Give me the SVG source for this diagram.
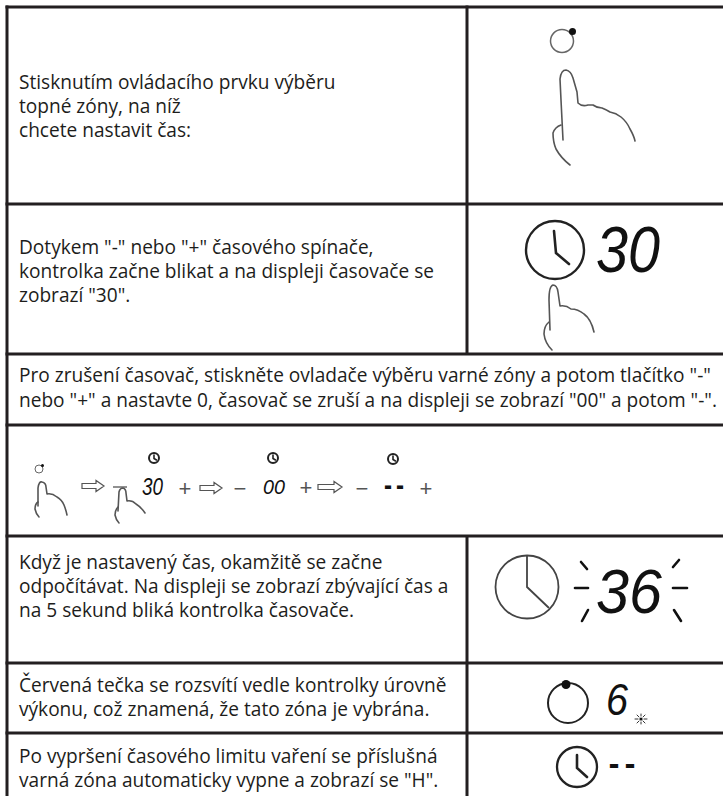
<svg xmlns="http://www.w3.org/2000/svg" width="723" height="796" viewBox="0 0 723 796">
  <style>
    .grid { stroke: #231f20; stroke-width: 3; fill: none; }
    .t { font-family: "Open Sans", "Liberation Sans", sans-serif; font-size: 19.1px; fill: #1d1d1b; }
    .hand { fill: none; stroke: #555; stroke-width: 1.6; stroke-linecap: round; stroke-linejoin: round; }
    .lcd { font-family: "Liberation Sans", "DejaVu Sans", sans-serif; font-style: italic; fill: #111; }
    .thin { font-family: "Liberation Sans", sans-serif; fill: #555; font-size: 22px; text-anchor: middle; }
    .arrow { fill: #fff; stroke: #555; stroke-width: 1.2; stroke-linejoin: miter; }
    .clk { fill: none; stroke: #222; stroke-linecap: round; }
    .tick { stroke: #111; stroke-width: 2.6; stroke-linecap: round; }
  </style>

  <!-- table grid -->
  <g id="grid" class="grid">
    <line x1="5.5" y1="7" x2="723" y2="7"/>
    <line x1="5.5" y1="204" x2="723" y2="204"/>
    <line x1="5.5" y1="354" x2="723" y2="354"/>
    <line x1="5.5" y1="425" x2="723" y2="425"/>
    <line x1="5.5" y1="536" x2="723" y2="536"/>
    <line x1="5.5" y1="663" x2="723" y2="663"/>
    <line x1="5.5" y1="733" x2="723" y2="733"/>
    <line x1="7" y1="5.5" x2="7" y2="796"/>
    <line x1="467" y1="5.5" x2="467" y2="354"/>
    <line x1="467" y1="536" x2="467" y2="796"/>
  </g>

  <!-- row 1: select cooking zone -->
  <g id="row1-text">
    <text class="t" x="19" y="89">Stisknutím ovládacího prvku výběru</text>
    <text class="t" x="19" y="113">topné zóny, na níž</text>
    <text class="t" x="19" y="137">chcete nastavit čas:</text>
  </g>
  <g id="row1-icon">
    <circle cx="562" cy="41" r="11.5" fill="none" stroke="#666" stroke-width="1.5"/>
    <circle cx="572.5" cy="31.5" r="3.5" fill="#111"/>
    <path class="hand" d="M563,140 L561,100 L560,79 Q561,70 566,70 Q571,71 573,78 L577,92 L578,103 Q582,107 588,105 L593,105 Q597,108 602,108 Q607,110 610,112 Q616,113 621,117 Q627,122 630,129 Q634,136 635,141"/>
    <path class="hand" d="M561,125 Q555,127 553,133 Q553,142 556,149 Q561,158 570,165"/>
  </g>

  <!-- row 2: timer start -->
  <g id="row2-text">
    <text class="t" x="19" y="254">Dotykem "-" nebo "+" časového spínače,</text>
    <text class="t" x="19" y="278">kontrolka začne blikat a na displeji časovače se</text>
    <text class="t" x="19" y="302">zobrazí "30".</text>
  </g>
  <g id="row2-icon">
    <circle class="clk" cx="555" cy="250" r="29" stroke-width="2.4"/>
    <polyline class="clk" points="554,231 556,253 569,264" stroke-width="2.6"/>
    <text class="lcd" x="596" y="272" font-size="65" textLength="64" lengthAdjust="spacingAndGlyphs">30</text>
    <path class="hand" d="M550,330 L549,300 Q549,286 553,285 Q557,285 558,292 L560,306 Q566,305 571,309 Q578,309 584,314 Q591,319 594,332"/>
    <path class="hand" d="M549,322 Q544,326 544,334 Q545,343 552,350"/>
  </g>

  <!-- row 3: cancelling the timer -->
  <g id="row3-text">
    <text class="t" x="19" y="382">Pro zrušení časovač, stiskněte ovladače výběru varné zóny a potom tlačítko "-"</text>
    <text class="t" x="19" y="407">nebo "+" a nastavte 0, časovač se zruší a na displeji se zobrazí "00" a potom "-".</text>
  </g>

  <!-- row 4: cancel sequence -->
  <g id="row4-sequence">
    <circle cx="39" cy="469" r="4" fill="none" stroke="#666" stroke-width="1"/>
    <circle cx="42.5" cy="465.5" r="1.5" fill="#111"/>
    <path class="hand" d="M38,506 L38,488 Q39,481 42,482 Q46,483 46,487 L47,494 Q52,493 57,497 Q62,500 64,505 Q66,510 67,515" stroke-width="1.2"/>
    <path class="hand" d="M38,502 Q35,504 35,509 Q36,514 39,517" stroke-width="1.2"/>

    <polygon class="arrow" points="82,483.5 96,483.5 96,480.5 104,486 96,491.5 96,488.5 82,488.5"/>

    <line x1="113" y1="487" x2="127" y2="487" stroke="#555" stroke-width="1.3"/>
    <path class="hand" d="M118,511 L119,492 Q120,488 123,488 Q126,489 126,493 L127,501 Q132,500 136,504 Q141,507 145,513" stroke-width="1.2"/>
    <path class="hand" d="M118,507 Q115,510 115,515 Q116,520 119,523" stroke-width="1.2"/>

    <circle class="clk" cx="154" cy="458" r="5" stroke-width="2"/>
    <polyline class="clk" points="154,455 154,458.5 156.5,460" stroke-width="1.6"/>
    <text class="lcd" x="142" y="495" font-size="23" textLength="21" lengthAdjust="spacingAndGlyphs">30</text>
    <text class="thin" x="185" y="496">+</text>

    <polygon class="arrow" points="200,485.5 214,485.5 214,482.5 222,488 214,493.5 214,490.5 200,490.5"/>
    <text class="thin" x="240" y="496">−</text>

    <circle class="clk" cx="273" cy="458" r="5" stroke-width="2"/>
    <polyline class="clk" points="273,455 273,458.5 275.5,460" stroke-width="1.6"/>
    <text class="lcd" x="263" y="494" font-size="20" textLength="22" lengthAdjust="spacingAndGlyphs">00</text>
    <text class="thin" x="306" y="495">+</text>

    <polygon class="arrow" points="318,484.5 334,484.5 334,481.5 342,487 334,492.5 334,489.5 318,489.5"/>
    <text class="thin" x="362" y="496">−</text>

    <circle class="clk" cx="393" cy="459" r="5" stroke-width="2"/>
    <polyline class="clk" points="393,456 393,459.5 395.5,461" stroke-width="1.6"/>
    <text x="382" y="494" font-family="DejaVu Sans Mono, monospace" font-weight="bold" font-size="24" fill="#111" textLength="24" lengthAdjust="spacingAndGlyphs">--</text>
    <text class="thin" x="426" y="496">+</text>
  </g>

  <!-- row 5: countdown -->
  <g id="row5-text">
    <text class="t" x="19" y="569">Když je nastavený čas, okamžitě se začne</text>
    <text class="t" x="19" y="593">odpočítávat. Na displeji se zobrazí zbývající čas a</text>
    <text class="t" x="19" y="617">na 5 sekund bliká kontrolka časovače.</text>
  </g>
  <g id="row5-icon">
    <circle cx="527" cy="587" r="31.5" fill="none" stroke="#444" stroke-width="1.8"/>
    <polyline points="527,556 527,587 549,608" fill="none" stroke="#444" stroke-width="1.8"/>
    <line class="tick" x1="581" y1="562" x2="587" y2="569"/>
    <line class="tick" x1="575" y1="588" x2="588" y2="588"/>
    <line class="tick" x1="588" y1="610" x2="582" y2="621"/>
    <text class="lcd" x="596" y="613" font-size="63" textLength="66" lengthAdjust="spacingAndGlyphs">36</text>
    <line class="tick" x1="673" y1="567" x2="679" y2="560"/>
    <line class="tick" x1="673" y1="588" x2="687" y2="588"/>
    <line class="tick" x1="674" y1="610" x2="681" y2="621"/>
  </g>

  <!-- row 6: zone selected -->
  <g id="row6-text">
    <text class="t" x="19" y="692">Červená tečka se rozsvítí vedle kontrolky úrovně</text>
    <text class="t" x="19" y="716">výkonu, což znamená, že tato zóna je vybrána.</text>
  </g>
  <g id="row6-icon">
    <circle cx="568" cy="703" r="20" fill="none" stroke="#222" stroke-width="2"/>
    <circle cx="566" cy="684.5" r="4.5" fill="#111"/>
    <text class="lcd" x="606" y="715" font-size="44" textLength="22" lengthAdjust="spacingAndGlyphs">6</text>
    <g stroke="#333" stroke-width="1" stroke-linecap="round">
      <circle cx="641" cy="719" r="1.6" fill="#111" stroke="none"/>
      <line x1="644" y1="719" x2="647" y2="719"/>
      <line x1="638" y1="719" x2="635" y2="719"/>
      <line x1="641" y1="716" x2="641" y2="714"/>
      <line x1="641" y1="722" x2="641" y2="724"/>
      <line x1="643" y1="717" x2="645" y2="715"/>
      <line x1="639" y1="717" x2="637" y2="715"/>
      <line x1="643" y1="721" x2="645" y2="723"/>
      <line x1="639" y1="721" x2="637" y2="723"/>
    </g>
  </g>

  <!-- row 7: cooking time expired -->
  <g id="row7-text">
    <text class="t" x="19" y="763">Po vypršení časového limitu vaření se příslušná</text>
    <text class="t" x="19" y="787">varná zóna automaticky vypne a zobrazí se "H".</text>
  </g>
  <g id="row7-icon">
    <circle class="clk" cx="577" cy="767" r="20" stroke-width="2.3"/>
    <polyline class="clk" points="577,755 577,768 587,777" stroke-width="2.6"/>
    <text x="606" y="774" font-family="DejaVu Sans Mono, monospace" font-weight="bold" font-size="28" fill="#111" textLength="32" lengthAdjust="spacingAndGlyphs">--</text>
  </g>
</svg>
